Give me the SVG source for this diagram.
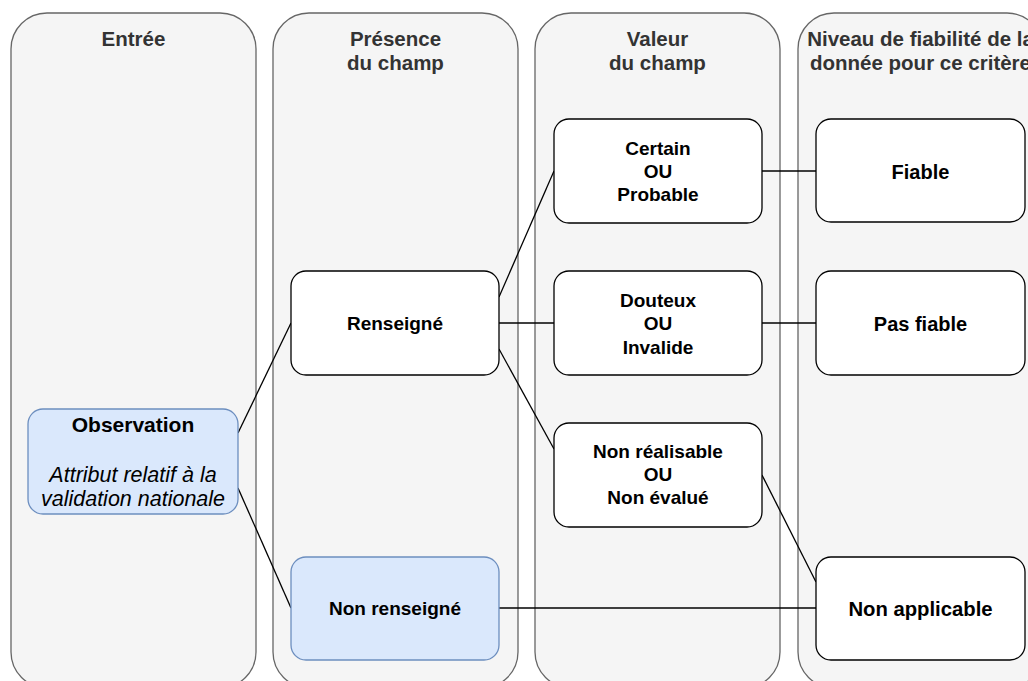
<svg xmlns="http://www.w3.org/2000/svg" width="1028" height="681" viewBox="0 0 1028 681">
  <style>
    .lane { fill: #f5f5f5; stroke: #666666; stroke-width: 1.3; }
    .lane-title { font-family: "Liberation Sans", Arial, sans-serif; font-weight: bold; font-size: 20.5px; fill: #333333; text-anchor: middle; }
    .box { fill: #ffffff; stroke: #000000; stroke-width: 1.3; }
    .box-blue { fill: #dae8fc; stroke: #6c8ebf; stroke-width: 1.3; }
    .label { font-family: "Liberation Sans", Arial, sans-serif; font-weight: bold; font-size: 19px; fill: #000000; text-anchor: middle; }
    .label-lg { font-size: 20px; }
    .note { font-family: "Liberation Sans", Arial, sans-serif; font-style: italic; font-size: 21.5px; fill: #000000; text-anchor: middle; }
    .edge { fill: none; stroke: #000000; stroke-width: 1.3; }
  </style>

  <rect width="1028" height="681" fill="#ffffff"/>

  <!-- swimlanes -->
  <g id="lane-entree">
    <rect class="lane" x="11" y="13" width="245" height="675" rx="36" ry="36"/>
    <text class="lane-title" x="133.5" y="46">Entrée</text>
  </g>
  <g id="lane-presence">
    <rect class="lane" x="273" y="13" width="245" height="675" rx="36" ry="36"/>
    <text class="lane-title" x="395.5" y="46">Présence</text>
    <text class="lane-title" x="395.5" y="70">du champ</text>
  </g>
  <g id="lane-valeur">
    <rect class="lane" x="535" y="13" width="245" height="675" rx="36" ry="36"/>
    <text class="lane-title" x="657.5" y="46">Valeur</text>
    <text class="lane-title" x="657.5" y="70">du champ</text>
  </g>
  <g id="lane-niveau">
    <rect class="lane" x="798" y="13" width="245" height="675" rx="36" ry="36"/>
    <text class="lane-title" x="920.5" y="46">Niveau de fiabilité de la</text>
    <text class="lane-title" x="920.5" y="70">donnée pour ce critère</text>
  </g>

  <!-- connectors -->
  <g id="connectors">
    <path class="edge" d="M238,433 L291,323"/>
    <path class="edge" d="M238,488 L291,608"/>
    <path class="edge" d="M499,297 L554,171"/>
    <path class="edge" d="M499,323 L554,323"/>
    <path class="edge" d="M499,349 L554,449"/>
    <path class="edge" d="M762,171 L816,171"/>
    <path class="edge" d="M762,323 L816,323"/>
    <path class="edge" d="M762,475 L816,582"/>
    <path class="edge" d="M499,608 L816,608"/>
  </g>

  <!-- nodes -->
  <g id="observation">
    <rect class="box-blue" x="28" y="409" width="210" height="105" rx="15" ry="15"/>
    <text class="label" x="133" y="432" style="font-size:21px">Observation</text>
    <text class="note" x="133" y="482">Attribut relatif à la</text>
    <text class="note" x="133" y="506">validation nationale</text>
  </g>
  <g id="renseigne">
    <rect class="box" x="291" y="271" width="208" height="104" rx="15" ry="15"/>
    <text class="label" x="395" y="330">Renseigné</text>
  </g>
  <g id="non-renseigne">
    <rect class="box-blue" x="291" y="557" width="208" height="103" rx="15" ry="15"/>
    <text class="label" x="395" y="615">Non renseigné</text>
  </g>
  <g id="certain-probable">
    <rect class="box" x="554" y="119" width="208" height="104" rx="15" ry="15"/>
    <text class="label" x="658" y="155">Certain</text>
    <text class="label" x="658" y="178">OU</text>
    <text class="label" x="658" y="201">Probable</text>
  </g>
  <g id="douteux-invalide">
    <rect class="box" x="554" y="271" width="208" height="104" rx="15" ry="15"/>
    <text class="label" x="658" y="307">Douteux</text>
    <text class="label" x="658" y="330">OU</text>
    <text class="label" x="658" y="354">Invalide</text>
  </g>
  <g id="non-realisable">
    <rect class="box" x="554" y="423" width="208" height="104" rx="15" ry="15"/>
    <text class="label" x="658" y="458">Non réalisable</text>
    <text class="label" x="658" y="481">OU</text>
    <text class="label" x="658" y="504">Non évalué</text>
  </g>
  <g id="fiable">
    <rect class="box" x="816" y="119" width="209" height="103" rx="15" ry="15"/>
    <text class="label label-lg" x="920.5" y="179">Fiable</text>
  </g>
  <g id="pas-fiable">
    <rect class="box" x="816" y="271" width="209" height="104" rx="15" ry="15"/>
    <text class="label label-lg" x="920.5" y="331">Pas fiable</text>
  </g>
  <g id="non-applicable">
    <rect class="box" x="816" y="557" width="209" height="103" rx="15" ry="15"/>
    <text class="label" x="920.5" y="616" style="font-size:20.3px">Non applicable</text>
  </g>
</svg>
